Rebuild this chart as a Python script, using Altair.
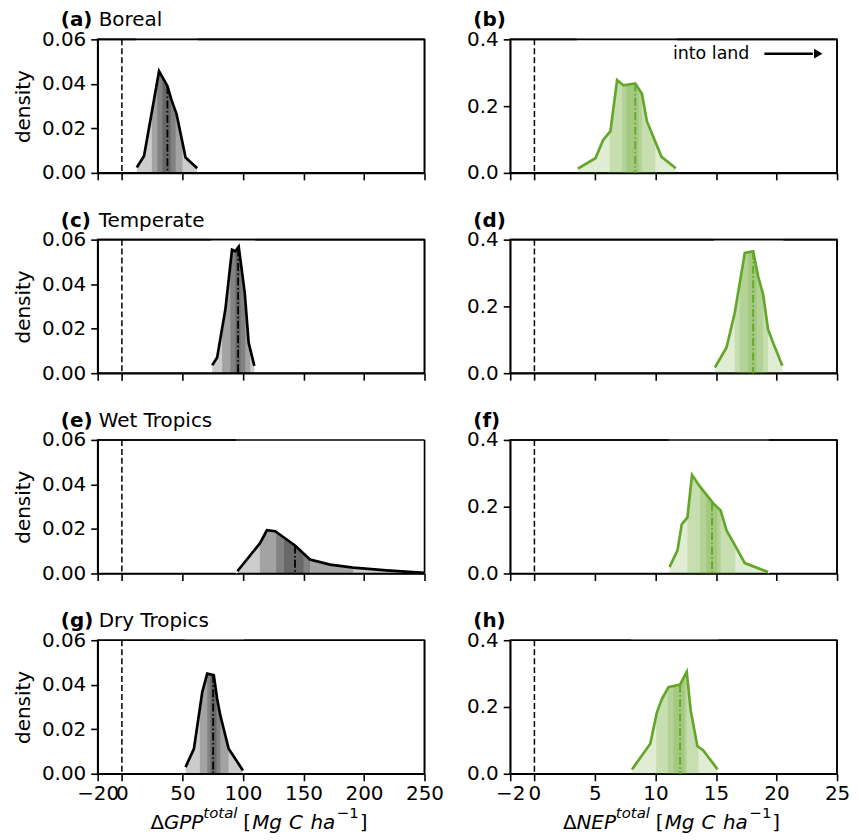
import altair as alt
import pandas as pd

# ---------------- axes / labels ----------------
GPP_X_TICKS = [-20, 0, 50, 100, 150, 200, 250]
NEP_X_TICKS = [-2, 0, 5, 10, 15, 20, 25]
GPP_Y_TICKS = [0.0, 0.02, 0.04, 0.06]
NEP_Y_TICKS = [0.0, 0.2, 0.4]
GPP_X_DOMAIN = [-20, 250]
NEP_X_DOMAIN = [-2, 25]
GPP_Y_DOMAIN = [0, 0.06]
NEP_Y_DOMAIN = [0, 0.4]

BIOMES = ["Boreal", "Temperate", "Wet Tropics", "Dry Tropics"]
GPP_LETTERS = ["(a)", "(c)", "(e)", "(g)"]
NEP_LETTERS = ["(b)", "(d)", "(f)", "(h)"]

# ---------------- density curves ----------------
gpp_boreal_x = [12.3, 18.3, 30.7, 37.6, 40.8, 45.2, 52.6, 62.2]
gpp_boreal_y = [0.0024, 0.0076, 0.0457, 0.039, 0.033, 0.0263, 0.0069, 0.0021]
gpp_boreal_bands = [[24.7, 50.0], [29.3, 44.4], [33.5, 40.3]]
gpp_boreal_median = [37.6, 0.039]

nep_boreal_x = [3.59, 5.04, 5.67, 6.28, 6.83, 7.37, 8.33, 8.88, 9.29, 10.5, 11.68]
nep_boreal_y = [0.013, 0.044, 0.098, 0.125, 0.278, 0.262, 0.268, 0.237, 0.155, 0.048, 0.014]
nep_boreal_bands = [[6.22, 9.98], [7.24, 8.88], [7.6, 8.6]]
nep_boreal_median = [8.33, 0.268]

gpp_temperate_x = [74.6, 78.7, 85.5, 91.0, 93.75, 96.5, 101.5, 104.7, 109.4]
gpp_temperate_y = [0.0036, 0.007, 0.0287, 0.0555, 0.0548, 0.0568, 0.036, 0.0137, 0.0033]
gpp_temperate_bands = [[82.8, 106.0], [89.6, 102.0], [93.75, 97.9]]
gpp_temperate_median = [96.0, 0.056]

nep_temperate_x = [14.91, 15.87, 16.55, 17.38, 18.07, 18.48, 18.89, 19.3, 19.76, 20.48]
nep_temperate_y = [0.017, 0.077, 0.181, 0.36, 0.365, 0.29, 0.236, 0.131, 0.087, 0.022]
nep_temperate_bands = [[16.55, 19.3], [16.96, 18.89], [17.66, 18.34]]
nep_temperate_median = [18.07, 0.365]

gpp_wet_x = [95.4, 114.0, 119.8, 126.6, 143.0, 155.4, 172.0, 191.0, 218.5, 250.0]
gpp_wet_y = [0.001, 0.0135, 0.0194, 0.019, 0.0126, 0.0063, 0.004, 0.0026, 0.0014, 0.0003]
gpp_wet_bands = [[114.0, 191.0], [127.5, 155.4], [134.0, 150.0]]
gpp_wet_median = [143.0, 0.0126]

nep_wet_x = [11.16, 11.82, 12.17, 12.64, 13.02, 13.68, 14.78, 15.38, 15.87, 16.42, 17.38, 19.3]
nep_wet_y = [0.019, 0.069, 0.147, 0.168, 0.295, 0.26, 0.21, 0.189, 0.129, 0.094, 0.031, 0.004]
nep_wet_bands = [[12.64, 16.6], [13.68, 15.38], [14.2, 15.1]]
nep_wet_median = [14.67, 0.21]

gpp_dry_x = [52.6, 59.5, 66.4, 70.5, 75.9, 78.7, 81.4, 88.2, 100.0]
gpp_dry_y = [0.003, 0.0112, 0.0367, 0.045, 0.0443, 0.0336, 0.026, 0.0112, 0.0015]
gpp_dry_bands = [[64.4, 88.2], [70.5, 81.4], [73.2, 78.1]]
gpp_dry_median = [75.4, 0.0445]

nep_dry_x = [8.06, 9.57, 10.12, 10.53, 11.07, 12.03, 12.58, 12.91, 13.46, 13.95, 15.13]
nep_dry_y = [0.013, 0.09, 0.184, 0.224, 0.259, 0.267, 0.305, 0.189, 0.083, 0.07, 0.013]
nep_dry_bands = [[10.06, 13.55], [11.02, 12.58], [11.5, 12.4]]
nep_dry_median = [12.03, 0.267]

GPP_DATA = [
    (gpp_boreal_x, gpp_boreal_y, gpp_boreal_bands, gpp_boreal_median),
    (gpp_temperate_x, gpp_temperate_y, gpp_temperate_bands, gpp_temperate_median),
    (gpp_wet_x, gpp_wet_y, gpp_wet_bands, gpp_wet_median),
    (gpp_dry_x, gpp_dry_y, gpp_dry_bands, gpp_dry_median),
]
NEP_DATA = [
    (nep_boreal_x, nep_boreal_y, nep_boreal_bands, nep_boreal_median),
    (nep_temperate_x, nep_temperate_y, nep_temperate_bands, nep_temperate_median),
    (nep_wet_x, nep_wet_y, nep_wet_bands, nep_wet_median),
    (nep_dry_x, nep_dry_y, nep_dry_bands, nep_dry_median),
]

# ---------------- styling ----------------
W, H = 328, 134
FONT = "DejaVu Sans"
GREEN = "#64a628"
FS = 20      # main font size
SS = 15      # superscript font size


def xtitle_layers(var):
    # (text, style, size, superscript, left offset in px from plot left)
    pieces = [("Δ", "normal", FS, False, 53), (var, "italic", FS, False, 66.5),
              ("total", "italic", SS, True, 106), ("[", "normal", FS, False, 146),
              ("Mg", "italic", FS, False, 155), ("C", "italic", FS, False, 192),
              ("ha", "italic", FS, False, 213.5), ("−1", "normal", SS, True, 240),
              ("]", "normal", FS, False, 263)]
    layers = []
    for txt, style, size, sup, x in pieces:
        layers.append(
            alt.Chart(pd.DataFrame({"t": [txt]})).mark_text(
                font=FONT, fontSize=size, fontStyle=style, align="left",
                baseline="alphabetic", color="black"
            ).encode(x=alt.value(x), y=alt.value(H + (44 if sup else 55)), text="t:N")
        )
    return layers


def make_panel(data, kind, row):
    cx, cy, bands, med = data
    is_gpp = kind == "gpp"
    color = "black" if is_gpp else GREEN
    xdom = GPP_X_DOMAIN if is_gpp else NEP_X_DOMAIN
    ydom = GPP_Y_DOMAIN if is_gpp else NEP_Y_DOMAIN
    xticks = GPP_X_TICKS if is_gpp else NEP_X_TICKS
    yticks = GPP_Y_TICKS if is_gpp else NEP_Y_TICKS
    bottom = row == 3

    xs = alt.Scale(domain=xdom, nice=False, zero=False)
    ys = alt.Scale(domain=ydom, nice=False, zero=False)
    xaxis = alt.Axis(values=xticks, labels=bottom, title=None, grid=False, format="d",
                     labelFlush=False, labelOverlap=False)
    yaxis = alt.Axis(values=yticks, format=".2f" if is_gpp else ".1f",
                     title="density" if is_gpp else None, grid=False,
                     labelOverlap=False, labelFlush=False)

    curve = pd.DataFrame({"x": cx, "y": cy, "top": [ydom[1]] * len(cx)})
    band_df = pd.DataFrame({
        "lo": [min(cx)] + [b[0] for b in bands],
        "hi": [max(cx)] + [b[1] for b in bands],
    })
    med_df = pd.DataFrame({"m": [med[0]], "h": [med[1]], "z": [0.0]})
    zero_df = pd.DataFrame({"z": [0.0]})
    frame_df = pd.DataFrame({"xr": [xdom[1]], "yt": [ydom[1]]})

    rects = alt.Chart(band_df).mark_rect(color=color, opacity=0.2, strokeWidth=0).encode(
        x=alt.X("lo:Q", scale=xs, axis=xaxis), x2="hi:Q",
        y=alt.value(0), y2=alt.value(H))
    mask = alt.Chart(curve).mark_area(color="white", fillOpacity=1, opacity=1,
                                      stroke="white", strokeWidth=2).encode(
        x=alt.X("x:Q", scale=xs, axis=xaxis),
        y=alt.Y("y:Q", scale=ys, axis=yaxis), y2="top:Q")
    frame_top = alt.Chart(frame_df).mark_rule(color="black", strokeWidth=1.6).encode(
        y=alt.Y("yt:Q", scale=ys, axis=yaxis))
    frame_right = alt.Chart(frame_df).mark_rule(color="black", strokeWidth=1.6).encode(
        x=alt.X("xr:Q", scale=xs, axis=xaxis))
    line = alt.Chart(curve).mark_line(color=color, strokeWidth=2.7, strokeJoin="miter").encode(
        x=alt.X("x:Q", scale=xs, axis=xaxis),
        y=alt.Y("y:Q", scale=ys, axis=yaxis))
    median = alt.Chart(med_df).mark_rule(color=color, strokeWidth=1.8,
                                          strokeDash=[8, 2.5, 1.5, 2.5]).encode(
        x=alt.X("m:Q", scale=xs, axis=xaxis),
        y=alt.Y("h:Q", scale=ys, axis=yaxis), y2="z:Q")
    zero = alt.Chart(zero_df).mark_rule(color="black", strokeWidth=1.5,
                                         strokeDash=[6, 3]).encode(
        x=alt.X("z:Q", scale=xs, axis=xaxis))

    letter = GPP_LETTERS[row] if is_gpp else NEP_LETTERS[row]
    t_letter = alt.Chart(pd.DataFrame({"t": [letter]})).mark_text(
        font=FONT, fontSize=FS, fontWeight="bold", align="left", baseline="middle",
        color="black").encode(x=alt.value(-37), y=alt.value(-19), text="t:N")
    layers = [rects, mask, frame_top, frame_right, line, median, zero, t_letter]
    if is_gpp:
        t_name = alt.Chart(pd.DataFrame({"t": [BIOMES[row]]})).mark_text(
            font=FONT, fontSize=FS, align="left", baseline="middle",
            color="black").encode(x=alt.value(1), y=alt.value(-19), text="t:N")
        layers.append(t_name)
    if kind == "nep" and row == 0:
        ann = pd.DataFrame({"t": ["into land"], "x": [14.6], "y": [0.357],
                            "x0": [19.0], "x1": [23.0], "xh": [23.45]})
        layers.append(alt.Chart(ann).mark_text(
            font=FONT, fontSize=17.5, align="center", baseline="middle", color="black").encode(
            x=alt.X("x:Q", scale=xs, axis=xaxis), y=alt.Y("y:Q", scale=ys, axis=yaxis), text="t:N"))
        layers.append(alt.Chart(ann).mark_rule(color="black", strokeWidth=2.4).encode(
            x=alt.X("x0:Q", scale=xs, axis=xaxis), x2="x1:Q",
            y=alt.Y("y:Q", scale=ys, axis=yaxis)))
        layers.append(alt.Chart(ann).mark_point(
            shape="triangle-right", filled=True, color="black", opacity=1, size=95).encode(
            x=alt.X("xh:Q", scale=xs, axis=xaxis), y=alt.Y("y:Q", scale=ys, axis=yaxis)))
    if bottom:
        layers += xtitle_layers("GPP" if is_gpp else "NEP")
    return alt.layer(*layers).properties(width=W, height=H)


panels = []
for r in range(4):
    panels.append(make_panel(GPP_DATA[r], "gpp", r))
    panels.append(make_panel(NEP_DATA[r], "nep", r))

chart = alt.concat(*panels, columns=2, spacing={"row": 67, "column": 86},
                   bounds="flush").properties(
    padding={"left": 4, "top": 0, "right": 0, "bottom": 0}
).configure_axis(
    labelFont=FONT, labelFontSize=FS, labelColor="black",
    titleFont=FONT, titleFontSize=FS, titleFontWeight="normal", titleColor="black",
    tickColor="black", domainColor="black", tickSize=7, tickWidth=1.6, domainWidth=1.6,
    grid=False
).configure_axisX(labelPadding=3).configure_axisY(labelPadding=5, titlePadding=8
).configure_view(stroke="black", strokeWidth=1.6
).configure_text(font=FONT)

chart.save("out.html", embed_options={"renderer": "svg", "actions": False})
